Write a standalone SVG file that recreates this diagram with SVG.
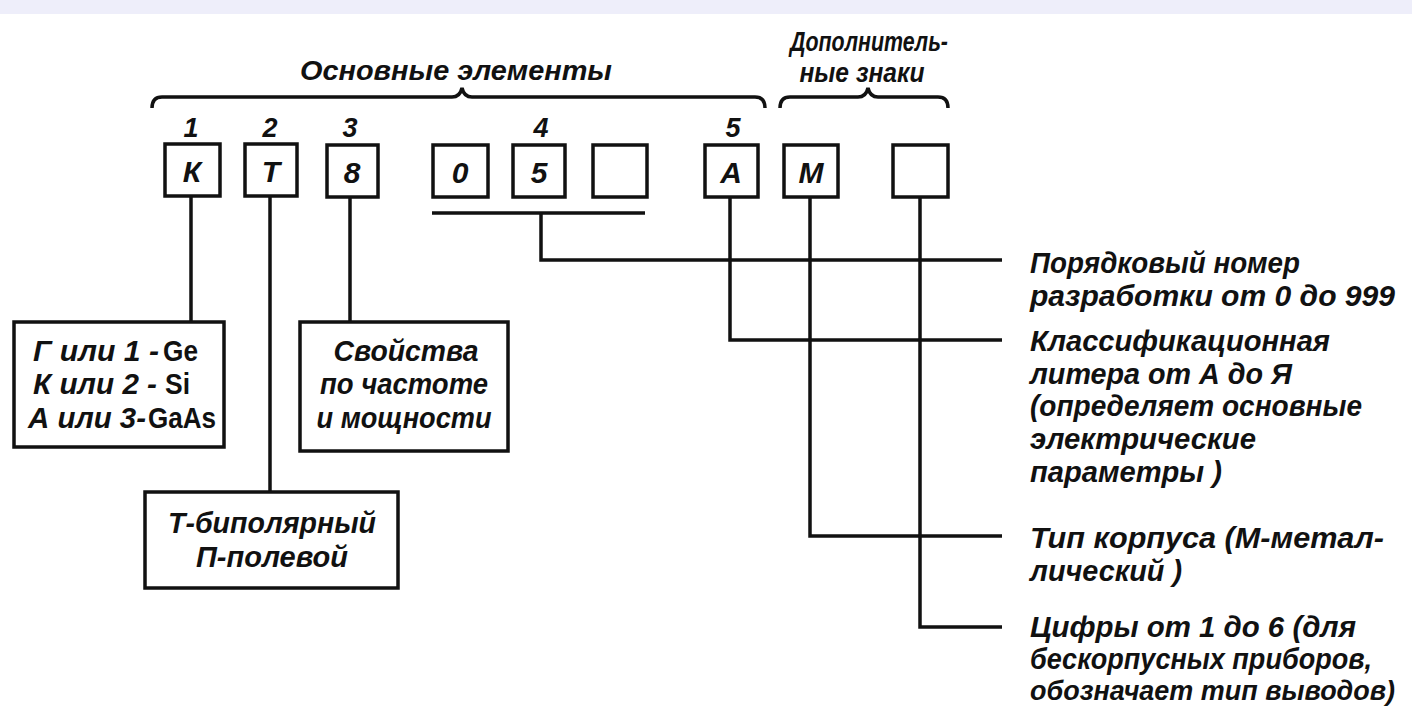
<svg xmlns="http://www.w3.org/2000/svg" width="1412" height="717" viewBox="0 0 1412 717">
<style>
.bg{fill:#ffffff}
.band{fill:#eeeefa}
.box{fill:none;stroke:#111;stroke-width:3.5}
.ln{fill:none;stroke:#111;stroke-width:3.5;stroke-linejoin:miter}
.t{font-family:"Liberation Sans","DejaVu Sans",sans-serif;font-style:italic;font-weight:bold;fill:#111}
.lbl{font-size:30px}
.sm{font-size:27px}
.hdr{font-size:27px}
.num{font-size:27px;text-anchor:middle}
.let{font-size:30px;text-anchor:middle}
.up{font-style:normal}
</style>
<rect class="bg" x="0" y="0" width="1412" height="717"/>
<rect class="band" x="0" y="0" width="1412" height="14"/>

<g id="header-main">
<text class="t hdr" x="456" y="80" text-anchor="middle" textLength="312" lengthAdjust="spacingAndGlyphs">Основные элементы</text>
<path class="ln" d="M152,108 Q152,97 162,97 L452,97 Q460,97 462,88 Q464,97 472,97 L755,97 Q765,97 765,108"/>
</g>
<g id="header-extra">
<text class="t hdr" x="869" y="51" text-anchor="middle" textLength="158" lengthAdjust="spacingAndGlyphs">Дополнитель-</text>
<text class="t hdr" x="862" y="82" text-anchor="middle" textLength="125" lengthAdjust="spacingAndGlyphs">ные знаки</text>
<path class="ln" d="M780,108 Q780,97 790,97 L858,97 Q866,97 868,88 Q870,97 878,97 L938,97 Q948,97 948,108"/>
</g>

<g id="numbers">
<text class="t num" x="191" y="137">1</text>
<text class="t num" x="270" y="137">2</text>
<text class="t num" x="350" y="137">3</text>
<text class="t num" x="541" y="137">4</text>
<text class="t num" x="733" y="137">5</text>
</g>

<g id="box-K"><rect class="box" x="165" y="144" width="55" height="52"/><text class="t let" x="192" y="182">К</text></g>
<g id="box-T"><rect class="box" x="245" y="144" width="52" height="52"/><text class="t let" x="271" y="182">Т</text></g>
<g id="box-8"><rect class="box" x="327" y="145" width="51" height="52"/><text class="t let" x="352" y="183">8</text></g>
<g id="box-0"><rect class="box" x="433" y="145" width="55" height="52"/><text class="t let" x="460" y="183">0</text></g>
<g id="box-5"><rect class="box" x="513" y="145" width="52" height="52"/><text class="t let" x="539" y="183">5</text></g>
<g id="box-empty1"><rect class="box" x="593" y="145" width="54" height="52"/></g>
<g id="box-A"><rect class="box" x="705" y="145" width="53" height="52"/><text class="t let" x="731" y="183">А</text></g>
<g id="box-M"><rect class="box" x="784" y="145" width="54" height="52"/><text class="t let" x="811" y="183">М</text></g>
<g id="box-empty2"><rect class="box" x="893" y="145" width="55" height="52"/></g>

<g id="connectors">
<path class="ln" d="M432,213 L645,213"/>
<path class="ln" d="M541,213 L541,260 L1002,260"/>
<path class="ln" d="M730,197 L730,340 L1002,340"/>
<path class="ln" d="M810,197 L810,536 L1002,536"/>
<path class="ln" d="M920,197 L920,627 L1002,627"/>
<path class="ln" d="M191,196 L191,322"/>
<path class="ln" d="M270,196 L270,492"/>
<path class="ln" d="M350,197 L350,322"/>
</g>

<g id="box-material">
<rect class="box" x="14" y="322" width="210" height="125"/>
<text class="t lbl" x="33" y="361" textLength="126" lengthAdjust="spacingAndGlyphs">Г или 1 -</text>
<text class="t lbl up" x="163" y="361" textLength="35" lengthAdjust="spacingAndGlyphs">Ge</text>
<text class="t lbl" x="33" y="394" textLength="124" lengthAdjust="spacingAndGlyphs">К или 2 -</text>
<text class="t lbl up" x="165" y="394" textLength="25" lengthAdjust="spacingAndGlyphs">Si</text>
<text class="t lbl" x="28" y="428" textLength="118" lengthAdjust="spacingAndGlyphs">А или 3-</text>
<text class="t lbl up" x="148" y="428" textLength="68" lengthAdjust="spacingAndGlyphs">GaAs</text>
</g>

<g id="box-props">
<rect class="box" x="300" y="322" width="208" height="129"/>
<text class="t lbl" x="406" y="361" text-anchor="middle" textLength="145" lengthAdjust="spacingAndGlyphs">Свойства</text>
<text class="t lbl" x="404" y="394" text-anchor="middle" textLength="168" lengthAdjust="spacingAndGlyphs">по частоте</text>
<text class="t lbl" x="404" y="428" text-anchor="middle" textLength="175" lengthAdjust="spacingAndGlyphs">и мощности</text>
</g>

<g id="box-type">
<rect class="box" x="145" y="492" width="253" height="96"/>
<text class="t lbl" x="272" y="533" text-anchor="middle" textLength="208" lengthAdjust="spacingAndGlyphs">Т-биполярный</text>
<text class="t lbl" x="272" y="567" text-anchor="middle" textLength="152" lengthAdjust="spacingAndGlyphs">П-полевой</text>
</g>

<g id="desc-number">
<text class="t lbl" x="1030" y="273" textLength="270" lengthAdjust="spacingAndGlyphs">Порядковый  номер</text>
<text class="t lbl" x="1030" y="306" textLength="365" lengthAdjust="spacingAndGlyphs">разработки  от 0 до 999</text>
</g>
<g id="desc-letter">
<text class="t lbl" x="1030" y="351" textLength="300" lengthAdjust="spacingAndGlyphs">Классификационная</text>
<text class="t lbl" x="1030" y="384" textLength="262" lengthAdjust="spacingAndGlyphs">литера от А до Я</text>
<text class="t lbl" x="1030" y="416" textLength="332" lengthAdjust="spacingAndGlyphs">(определяет основные</text>
<text class="t lbl" x="1030" y="449" textLength="226" lengthAdjust="spacingAndGlyphs">электрические</text>
<text class="t lbl" x="1030" y="482" textLength="192" lengthAdjust="spacingAndGlyphs">параметры )</text>
</g>
<g id="desc-case">
<text class="t lbl" x="1030" y="548" textLength="354" lengthAdjust="spacingAndGlyphs">Тип корпуса (М-метал-</text>
<text class="t lbl" x="1030" y="581" textLength="152" lengthAdjust="spacingAndGlyphs">лический )</text>
</g>
<g id="desc-digits">
<text class="t lbl" x="1030" y="637" textLength="326" lengthAdjust="spacingAndGlyphs">Цифры от 1 до 6 (для</text>
<text class="t lbl" x="1030" y="669" textLength="342" lengthAdjust="spacingAndGlyphs">бескорпусных приборов,</text>
<text class="t sm" x="1030" y="700" textLength="365" lengthAdjust="spacingAndGlyphs">обозначает тип выводов)</text>
</g>
</svg>
